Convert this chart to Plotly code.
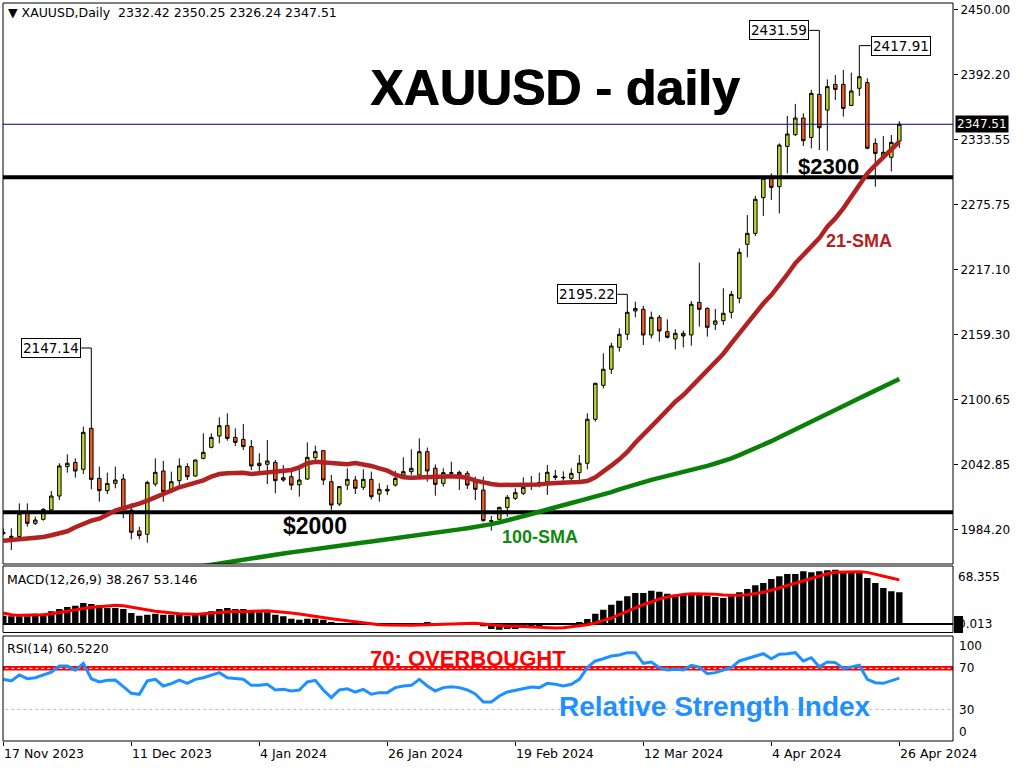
import plotly.graph_objects as go
import pandas as pd

# ---------------- data ----------------
holidays = ["2023-12-25", "2024-01-01", "2024-03-29"]
dates = [d for d in pd.bdate_range("2023-11-17", "2024-04-26")
         if d.strftime("%Y-%m-%d") not in holidays]
idx = list(range(len(dates)))

opens = [1981.0, 1978.5, 1978.2, 1999.1, 1990.1, 1993.7, 2002.1, 2014.6, 2040.9, 2044.7,
         2038.5, 2075.2, 2030.4, 2019.4, 2025.9, 2029.8, 2002.0, 1983.3, 1980.3, 2025.3,
         2037.0, 2020.0, 2028.3, 2040.9, 2032.5, 2048.3, 2058.2, 2068.3, 2077.6, 2067.1,
         2065.3, 2058.8, 2041.8, 2043.0, 2044.7, 2031.0, 2031.9, 2024.7, 2029.8, 2048.9,
         2055.2, 2027.4, 2007.4, 2024.4, 2028.9, 2022.4, 2029.5, 2016.4, 2020.6, 2024.4,
         2033.4, 2036.4, 2033.4, 2054.3, 2039.5, 2025.9, 2035.5, 2035.8, 2034.9, 2027.4,
         2020.0, 1992.5, 1993.7, 2004.4, 2012.5, 2017.0, 2024.0, 2026.0, 2027.4, 2032.5,
         2030.9, 2030.4, 2035.5, 2043.9, 2083.3, 2113.7, 2128.1, 2147.7, 2159.4, 2180.3,
         2181.8, 2158.8, 2174.6, 2161.8, 2155.2, 2160.3, 2158.8, 2188.0, 2182.6, 2168.4,
         2171.6, 2179.1, 2191.6, 2240.0, 2249.8, 2281.8, 2300.0, 2291.6, 2327.7, 2338.2,
         2353.1, 2335.7, 2374.3, 2360.2, 2383.2, 2383.2, 2364.4, 2379.7, 2384.8, 2330.4,
         2317.9, 2317.9, 2332.42]
highs = [1985.6, 1985.6, 2008.0, 2008.0, 1996.1, 2003.6, 2019.1, 2043.9, 2051.9, 2048.3,
         2076.7, 2147.14, 2040.9, 2035.5, 2040.9, 2034.3, 2008.0, 1987.1, 2028.3, 2048.3,
         2046.0, 2036.4, 2048.3, 2043.9, 2047.4, 2070.7, 2070.7, 2085.0, 2088.6, 2075.2,
         2079.1, 2064.7, 2052.8, 2064.7, 2046.8, 2042.4, 2039.4, 2039.4, 2062.6, 2059.7,
         2055.8, 2033.4, 2023.5, 2039.4, 2032.5, 2038.5, 2036.4, 2026.0, 2024.4, 2037.3,
         2049.2, 2056.4, 2066.2, 2058.0, 2042.9, 2039.4, 2045.3, 2037.3, 2037.0, 2031.9,
         2031.9, 1996.7, 2005.0, 2015.5, 2021.5, 2031.3, 2032.5, 2035.5, 2042.4, 2037.9,
         2036.7, 2039.4, 2051.3, 2088.6, 2116.1, 2142.4, 2151.9, 2164.7, 2195.22, 2188.6,
         2184.8, 2179.7, 2176.7, 2172.8, 2163.9, 2162.7, 2189.2, 2223.6, 2183.6, 2182.1,
         2200.6, 2198.2, 2236.4, 2266.2, 2283.3, 2300.6, 2303.6, 2330.4, 2354.9, 2365.7,
         2357.3, 2378.2, 2431.59, 2387.7, 2391.6, 2396.1, 2393.7, 2417.91, 2388.6, 2334.9,
         2336.9, 2337.9, 2350.25]
lows = [1979.5, 1966.2, 1977.5, 1987.1, 1988.6, 1992.5, 2000.6, 2011.0, 2035.5, 2031.0,
        2034.3, 2020.6, 2009.5, 2016.4, 2021.5, 1994.6, 1975.8, 1975.8, 1972.8, 2023.2,
        2009.5, 2018.5, 2021.5, 2028.9, 2031.9, 2047.4, 2057.3, 2061.8, 2064.1, 2059.4,
        2055.8, 2037.9, 2036.4, 2025.3, 2017.0, 2027.4, 2020.0, 2014.0, 2028.9, 2046.8,
        2024.4, 2002.1, 2005.6, 2020.0, 2016.4, 2020.0, 2011.6, 2009.5, 2015.5, 2023.0,
        2031.9, 2033.4, 2032.5, 2027.4, 2014.9, 2023.0, 2031.3, 2020.0, 2020.9, 2011.0,
        1991.6, 1983.6, 1993.1, 1996.1, 2011.0, 2015.5, 2020.0, 2022.4, 2015.5, 2028.9,
        2028.3, 2026.5, 2028.9, 2038.5, 2081.2, 2111.0, 2123.9, 2143.9, 2154.3, 2174.6,
        2149.8, 2155.8, 2152.8, 2155.8, 2145.9, 2147.7, 2149.2, 2166.3, 2157.3, 2163.3,
        2167.8, 2173.7, 2187.1, 2228.3, 2247.4, 2265.3, 2279.7, 2267.7, 2303.5, 2337.0,
        2328.1, 2325.9, 2324.4, 2323.8, 2369.2, 2354.3, 2363.8, 2372.8, 2325.1, 2291.6,
        2316.1, 2305.3, 2326.24]
closes = [1982.0, 1977.6, 1999.1, 1990.1, 1993.1, 2002.7, 2014.6, 2041.5, 2043.9, 2037.0,
          2071.6, 2029.5, 2019.4, 2025.9, 2028.9, 2002.5, 1982.1, 1979.1, 2026.8, 2035.8,
          2018.5, 2027.4, 2041.5, 2031.9, 2046.8, 2053.7, 2067.1, 2077.6, 2066.2, 2062.6,
          2058.8, 2041.5, 2043.9, 2046.0, 2028.3, 2028.9, 2024.4, 2028.9, 2049.2, 2054.3,
          2028.9, 2006.5, 2023.0, 2029.5, 2021.5, 2029.5, 2014.0, 2020.6, 2019.1, 2030.4,
          2036.4, 2039.4, 2054.3, 2037.0, 2025.0, 2035.5, 2035.0, 2033.4, 2024.4, 2020.6,
          1992.5, 1992.0, 2004.4, 2013.4, 2017.6, 2022.4, 2025.0, 2026.5, 2035.8, 2031.3,
          2031.3, 2034.9, 2043.9, 2083.3, 2115.5, 2128.1, 2148.9, 2159.4, 2179.1, 2182.6,
          2158.8, 2174.6, 2162.4, 2156.7, 2160.3, 2157.9, 2186.3, 2181.8, 2165.7, 2171.4,
          2178.2, 2195.2, 2232.8, 2249.8, 2280.3, 2299.1, 2291.0, 2328.9, 2338.8, 2353.1,
          2332.8, 2375.2, 2344.4, 2381.2, 2378.7, 2361.7, 2377.3, 2390.1, 2326.0, 2321.4,
          2322.4, 2331.3, 2347.51]

sma21 = [1974.6, 1975.2, 1975.8, 1976.1, 1977.0, 1977.9, 1979.4, 1980.9, 1983.0, 1986.6,
         1990.1, 1992.5, 1994.3, 1997.6, 2001.5, 2003.6, 2005.3, 2007.7, 2010.4, 2013.7,
         2016.7, 2019.4, 2022.4, 2024.4, 2026.5, 2028.6, 2031.9, 2034.3, 2034.9, 2035.5,
         2035.5, 2034.3, 2034.9, 2036.1, 2036.7, 2037.0, 2037.9, 2040.3, 2043.9, 2045.3,
         2044.5, 2043.9, 2043.3, 2043.0, 2044.1, 2043.2, 2041.5, 2039.4, 2037.3, 2033.7,
         2031.3, 2031.0, 2031.3, 2031.9, 2031.9, 2031.9, 2032.2, 2031.9, 2031.0, 2028.3,
         2026.5, 2025.3, 2024.4, 2024.4, 2024.1, 2024.1, 2024.4, 2025.0, 2025.9, 2026.5,
         2026.5, 2026.8, 2027.1, 2028.0, 2031.3, 2036.1, 2041.8, 2047.4, 2054.0, 2062.3,
         2069.2, 2076.7, 2084.1, 2091.6, 2099.1, 2105.0, 2112.5, 2120.0, 2127.5, 2135.0,
         2142.0, 2151.3, 2160.3, 2169.2, 2178.2, 2187.0, 2194.5, 2203.0, 2213.0, 2223.0,
         2230.4, 2237.9, 2245.5, 2255.8, 2263.2, 2272.2, 2282.6, 2294.6, 2303.5, 2311.0,
         2318.4, 2324.4, 2331.9]

sma100 = [None] * 22 + [
    1948.5, 1949.7, 1950.9, 1952.1, 1953.3, 1954.4, 1955.5, 1956.6, 1957.7, 1958.8,
    1959.9, 1961.0, 1962.0, 1963.1, 1964.1, 1965.2, 1966.3, 1967.3, 1968.4, 1969.4,
    1970.5, 1971.6, 1972.1, 1973.0, 1973.9, 1974.8, 1975.7, 1976.8, 1977.9, 1978.9,
    1980.0, 1980.9, 1981.8, 1982.8, 1983.7, 1984.7, 1985.8, 1986.8, 1987.8, 1989.4,
    1991.0, 1992.7, 1994.2, 1996.3, 1998.4, 2000.5, 2002.7, 2004.6, 2006.4, 2008.3,
    2010.2, 2012.0, 2014.0, 2016.0, 2018.0, 2020.5, 2022.8, 2025.0, 2027.2, 2029.1,
    2030.8, 2032.5, 2034.1, 2035.8, 2037.3, 2039.4, 2041.6, 2043.7, 2045.5, 2048.3,
    2051.2, 2054.1, 2057.0, 2060.2, 2063.7, 2067.2, 2070.8, 2074.3, 2077.8, 2081.3,
    2084.7, 2088.2, 2091.7, 2095.2, 2098.6, 2102.1, 2105.6, 2109.0, 2112.5, 2116.0,
    2119.4]

macd_main = [10.0, 9.2, 9.2, 9.2, 12.4, 12.4, 15.3, 18.1, 20.5, 22.1,
             25.3, 24.1, 22.5, 19.3, 19.3, 18.1, 13.3, 10.0, 11.2, 12.4,
             11.2, 11.2, 11.2, 10.0, 11.2, 12.4, 15.3, 18.1, 19.3, 18.1,
             18.1, 15.3, 14.1, 14.1, 11.2, 9.2, 6.4, 5.2, 6.4, 6.4,
             5.2, 2.4, 1.2, 1.2, 0.4, 0.4, -0.8, -2.0, -1.6, -0.8,
             0.0, 0.4, 1.2, 2.0, 0.4, 0.4, 0.4, 0.0, 0.0, -0.8,
             -2.8, -6.0, -6.8, -6.0, -6.0, -2.0, -2.0, -2.0, -1.2, -1.2,
             0.4, 0.4, 2.4, 6.0, 12.4, 17.3, 23.3, 28.1, 33.3, 37.3,
             37.3, 40.2, 39.0, 36.5, 35.3, 35.3, 37.3, 36.5, 34.1, 32.5,
             31.3, 33.3, 38.2, 42.2, 46.6, 49.4, 54.2, 57.4, 60.2, 60.2,
             63.5, 62.2, 63.5, 64.7, 65.5, 62.2, 61.4, 63.5, 55.4, 49.4,
             43.4, 39.4, 38.267]
macd_signal = [13.3, 11.2, 10.4, 10.4, 10.8, 11.2, 12.4, 14.1, 15.3, 17.3,
               18.5, 20.1, 20.9, 22.1, 22.5, 22.1, 20.5, 18.1, 16.5, 15.3,
               14.5, 13.3, 12.4, 12.0, 11.6, 12.4, 13.3, 14.1, 14.9, 15.3,
               14.9, 14.9, 15.7, 16.1, 15.3, 14.9, 13.3, 12.0, 10.4, 9.2,
               8.0, 6.4, 5.2, 4.0, 2.8, 1.2, 0.0, -0.8, -1.2, -1.6,
               -1.6, -1.6, -1.2, -0.8, -0.8, -0.8, -0.4, 0.0, 0.8, 0.8,
               0.0, -1.2, -2.0, -2.8, -2.8, -3.2, -4.0, -4.8, -4.8, -4.8,
               -4.4, -3.6, -2.0, -0.8, 1.2, 4.4, 7.2, 11.2, 15.3, 19.3,
               23.3, 26.5, 30.1, 32.5, 34.5, 35.7, 36.5, 36.5, 36.5, 35.7,
               34.9, 34.5, 34.5, 35.3, 36.5, 38.2, 40.6, 43.4, 46.2, 49.4,
               52.2, 55.4, 58.2, 60.6, 62.2, 62.7, 62.7, 63.1, 62.2, 60.2,
               58.2, 55.4, 53.146]

rsi14 = [59.3, 57.7, 63.5, 59.9, 60.9, 63.5, 66.4, 72.3, 72.3, 68.1,
         74.9, 59.9, 56.7, 58.3, 58.6, 52.1, 45.6, 44.7, 57.7, 59.3,
         52.8, 55.1, 58.6, 55.4, 59.3, 60.9, 63.2, 65.8, 60.9, 60.3,
         59.3, 53.4, 53.4, 54.4, 48.9, 49.5, 47.9, 48.9, 56.7, 58.3,
         48.9, 41.4, 48.9, 50.1, 46.9, 49.5, 44.7, 46.3, 46.3, 51.2,
         52.8, 53.4, 59.3, 52.8, 47.9, 51.2, 52.1, 51.2, 48.9, 45.0,
         37.1, 37.1, 43.0, 46.9, 48.5, 50.5, 51.8, 51.2, 55.4, 54.4,
         52.8, 54.4, 59.3, 70.7, 77.2, 79.4, 82.0, 83.0, 85.3, 85.3,
         74.9, 76.2, 70.7, 68.4, 69.0, 68.4, 73.0, 71.3, 64.8, 65.8,
         68.1, 70.7, 77.2, 79.4, 82.0, 84.3, 79.4, 83.7, 84.3, 85.3,
         77.2, 80.4, 71.6, 76.2, 75.6, 70.0, 71.3, 73.0, 59.3, 56.0,
         55.4, 57.7, 60.522]

price_ticks = [2450.00, 2392.20, 2333.55, 2275.75, 2217.10, 2159.30, 2100.65, 2042.85, 1984.20]
tick_dates = ["2023-11-17", "2023-12-11", "2024-01-04", "2024-01-26",
              "2024-02-19", "2024-03-12", "2024-04-04", "2024-04-26"]
support_levels = [2300, 2000]
last_price = 2347.51
peak_labels = [(11, 2147.14, "left"), (78, 2195.22, "left"), (102, 2431.59, "left"), (107, 2417.91, "right")]

# ---------------- styling ----------------
BULL = "#bcd630"
BEAR = "#f25c22"
FONT = "DejaVu Sans"
BOLD = "Liberation Sans"

date_str = [d.strftime("%Y-%m-%d") for d in dates]
tick_idx = [date_str.index(t) for t in tick_dates]
tick_txt = [f"{dates[i].day} {dates[i].strftime('%b %Y')}" for i in tick_idx]

def px_x(x):
    return (x - 3) / 950.0

def px_y(y):
    return (741 - y) / 738.0

fig = go.Figure()

# bid line
fig.add_trace(go.Scatter(x=[-5, 130], y=[last_price, last_price], mode="lines",
                         line=dict(color="#000080", width=1), yaxis="y", hoverinfo="skip"))

fig.add_trace(go.Candlestick(
    x=idx, open=opens, high=highs, low=lows, close=closes,
    increasing=dict(fillcolor=BULL, line=dict(color="black", width=1)),
    decreasing=dict(fillcolor=BEAR, line=dict(color="black", width=1)),
    whiskerwidth=0, yaxis="y", name="XAUUSD"))

for lv in support_levels:
    fig.add_trace(go.Scatter(x=[-5, 130], y=[lv, lv], mode="lines",
                             line=dict(color="black", width=4), yaxis="y", hoverinfo="skip"))

fig.add_trace(go.Scatter(x=idx, y=sma100, mode="lines", line=dict(color="#0a800a", width=4.5),
                         yaxis="y", name="100-SMA", connectgaps=False))
fig.add_trace(go.Scatter(x=idx, y=sma21, mode="lines", line=dict(color="#b22222", width=4.5),
                         yaxis="y", name="21-SMA"))

# MACD
fig.add_trace(go.Scatter(x=[-5, 130], y=[0, 0], mode="lines", line=dict(color="black", width=2),
                         yaxis="y2", hoverinfo="skip"))
fig.add_trace(go.Bar(x=idx, y=macd_main, marker=dict(color="black", line=dict(width=0)),
                     width=0.8, yaxis="y2", name="MACD"))
fig.add_trace(go.Scatter(x=idx, y=macd_signal, mode="lines", line=dict(color="#ff0000", width=3),
                         yaxis="y2", name="Signal"))

# RSI
fig.add_trace(go.Scatter(x=[-5, 130], y=[70, 70], mode="lines", line=dict(color="#ff0000", width=4.5),
                         yaxis="y3", hoverinfo="skip"))
fig.add_trace(go.Scatter(x=[-5, 130], y=[70, 70], mode="lines",
                         line=dict(color="white", width=1, dash="3px,3px"), yaxis="y3", hoverinfo="skip"))
fig.add_trace(go.Scatter(x=[-5, 130], y=[30, 30], mode="lines",
                         line=dict(color="#b8b8b8", width=1, dash="3px,3px"), yaxis="y3", hoverinfo="skip"))
fig.add_trace(go.Scatter(x=idx, y=rsi14, mode="lines", line=dict(color="#1e90ff", width=3),
                         yaxis="y3", name="RSI"))

shapes = []
for yr in ["y domain", "y2 domain", "y3 domain"]:
    shapes.append(dict(type="rect", xref="paper", yref=yr, x0=0, x1=1, y0=0, y1=1,
                       line=dict(color="black", width=1), layer="above"))
# connectors of peak labels
for i, val, side in peak_labels:
    x0 = i - 1.25 if side == "left" else i + 1.42
    shapes.append(dict(type="line", xref="x", yref="y", x0=x0, x1=i, y0=val, y1=val,
                       line=dict(color="black", width=1)))
# MACD current value box
shapes.append(dict(type="rect", xref="paper", yref="paper", x0=px_x(954), x1=px_x(963),
                   y0=px_y(633), y1=px_y(616), fillcolor="black", line=dict(width=0)))

ann = []
def txt(x, y, s, size=12, color="black", family=FONT, xanchor="left", **kw):
    font = dict(family=family, size=size, color=color)
    font.update(kw.pop("fontextra", {}))
    ann.append(dict(xref="paper", yref="paper", x=px_x(x), y=px_y(y), text=s, showarrow=False,
                    xanchor=xanchor, yanchor="middle", font=font, **kw))

txt(6, 13, "▼ XAUUSD,Daily\u00a0\u00a02332.42 2350.25 2326.24 2347.51", size=12.5)
txt(5, 579, "MACD(12,26,9) 38.267 53.146", size=12.5)
txt(5, 648, "RSI(14) 60.5220", size=12.5)
txt(555, 88, "<b>XAUUSD - daily</b>", size=50, family=BOLD, xanchor="center",
    fontextra=dict(shadow="1px 0px 0px black"))
txt(828, 166, "<b>$2300</b>", size=22, family=BOLD, xanchor="center")
txt(315, 526, "<b>$2000</b>", size=23, family=BOLD, xanchor="center")
txt(859, 241, "<b>21-SMA</b>", size=18, family=BOLD, color="#b22222", xanchor="center")
txt(540, 537, "<b>100-SMA</b>", size=18, family=BOLD, color="#118a11", xanchor="center")
txt(468, 658, "<b>70: OVERBOUGHT</b>", size=22, family=BOLD, color="#ff0000", xanchor="center")
txt(715, 706, "<b>Relative Strength Index</b>", size=28, family=BOLD, color="#1e90ff", xanchor="center")

# right labels of the sub panes
txt(956, 577, "68.355")
txt(956, 624, "0.013")
txt(957, 646, "100")
txt(957, 668, "70")
txt(957, 710, "30")
txt(957, 732, "0")

# date labels
for i, t in zip(tick_idx, tick_txt):
    ann.append(dict(xref="x", yref="paper", x=i, y=px_y(753), text=t, showarrow=False,
                    xanchor="left", yanchor="middle", xshift=-1,
                    font=dict(family=FONT, size=12.5, color="black")))

# peak labels
for i, val, side in peak_labels:
    x0 = i - 1.25 if side == "left" else i + 1.42
    ann.append(dict(xref="x", yref="y", x=x0, y=val, text=f"{val:.2f}", showarrow=False,
                    xanchor="right" if side == "left" else "left", yanchor="middle",
                    bgcolor="white", bordercolor="black", borderwidth=1, borderpad=1,
                    font=dict(family=FONT, size=13.5, color="black")))

# current price tag
ann.append(dict(xref="paper", yref="y", x=px_x(955), y=last_price, text=f"{last_price:.2f}",
                showarrow=False, xanchor="left", yanchor="middle", bgcolor="black", borderpad=1,
                font=dict(family=FONT, size=12, color="white")))

fig.update_layout(
    width=1024, height=768,
    margin=dict(l=3, r=71, t=3, b=27, autoexpand=False),
    paper_bgcolor="white", plot_bgcolor="white",
    showlegend=False, boxgap=0.38, bargap=0.2,
    xaxis=dict(range=[-0.04, 118.71], anchor="y3", showgrid=False, zeroline=False,
               showticklabels=False, ticks="outside", ticklen=4, tickcolor="black",
               tickvals=tick_idx, rangeslider=dict(visible=False), fixedrange=True),
    yaxis=dict(domain=[px_y(564), 1], range=[1953.70, 2456.10], side="right", anchor="x",
               showgrid=False, zeroline=False, ticks="outside", ticklen=4, tickcolor="black",
               tickvals=price_ticks, ticktext=[f"{v:.2f}" for v in price_ticks],
               tickfont=dict(family=FONT, size=12, color="black")),
    yaxis2=dict(domain=[px_y(632.5), px_y(566)], range=[-10.24, 69.88], side="right", anchor="x",
                showgrid=False, zeroline=False, showticklabels=False),
    yaxis3=dict(domain=[0, px_y(636)], range=[-0.88, 101.56], side="right", anchor="x",
                showgrid=False, zeroline=False, showticklabels=False),
    shapes=shapes, annotations=ann,
)

fig.write_html("out.html", config={"displayModeBar": False},
               post_script="document.body.style.margin='0px';document.body.style.overflow='hidden';")
